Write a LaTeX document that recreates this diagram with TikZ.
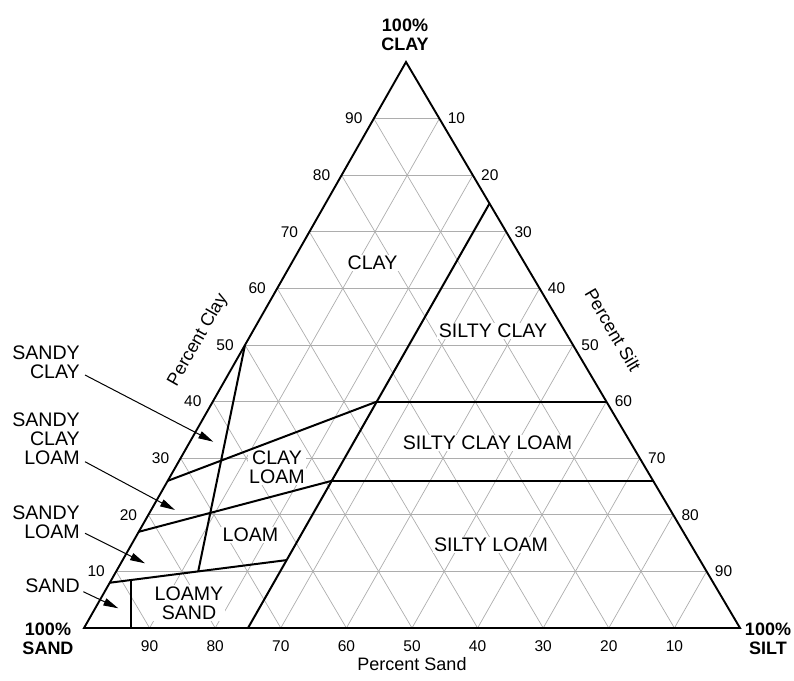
\documentclass[tikz,border=0pt]{standalone}
\usepackage{fontspec}
\setmainfont{Liberation Sans}
\usetikzlibrary{arrows.meta,calc}
\begin{document}
\begin{tikzpicture}[x=1pt,y=-1pt,
  gridline/.style={draw=black!32, line width=0.7pt},
  edgeline/.style={line width=1.9pt, line join=miter},
  bound/.style={line width=2pt},
  arr/.style={line width=1pt, -{Triangle[length=15pt,width=7.5pt]}},
  reg/.style={font=\fontsize{19.6}{19.5}\selectfont, align=center, inner sep=1.5pt, fill=white},
  side/.style={font=\fontsize{19.6}{19}\selectfont, align=right, inner sep=0pt, anchor=south east},
  num/.style={font=\fontsize{15.5}{16}\selectfont, inner sep=0pt},
  axislab/.style={font=\fontsize{18}{18}\selectfont, inner sep=0pt},
  corner/.style={font=\bfseries\fontsize{18}{19}\selectfont, align=center, inner sep=0pt}]
\useasboundingbox (0,0) rectangle (794,680);
\coordinate (A) at (84,628);
\coordinate (B) at (740,628);
\coordinate (C) at (406,62);
% grid
\foreach \i in {1,...,9}{
  \pgfmathsetmacro\p{\i/10}
  \pgfmathsetmacro\q{1-\i/10}
  \draw[gridline] (barycentric cs:A=\q,C=\p) -- (barycentric cs:B=\q,C=\p);
  \draw[gridline] (barycentric cs:A=\q,B=\p) -- (barycentric cs:B=\p,C=\q);
  \draw[gridline] (barycentric cs:A=\p,B=\q) -- (barycentric cs:A=\p,C=\q);
}
% region labels
\node[reg] (lclay) at (372.5,263) {CLAY};
\node[reg] (lsiltyclay) at (493,331) {SILTY CLAY};
\node[reg] (lsiltyclayloam) at (487.5,443) {SILTY CLAY LOAM};
\node[reg] (lclayloam) at (277,467) {CLAY\\LOAM};
\node[reg] (lloam) at (250.5,535) {LOAM};
\node[reg] (lsiltyloam) at (491,545) {SILTY LOAM};
\node[reg] (lloamysand) at (189,603) {LOAMY\\SAND};
% boundaries
\coordinate (Ptop) at (barycentric cs:B=0.25,C=0.75);
\coordinate (Pbot) at (barycentric cs:A=0.75,B=0.25);
\coordinate (P40) at (barycentric cs:A=0.35,B=0.25,C=0.40);
\coordinate (R40) at (barycentric cs:B=0.6,C=0.4);
\coordinate (P26) at (barycentric cs:A=0.49,B=0.25,C=0.26);
\coordinate (R26) at (barycentric cs:B=0.74,C=0.26);
\coordinate (L50) at (barycentric cs:A=0.5,C=0.5);
\coordinate (Q10) at (barycentric cs:A=0.775,B=0.125,C=0.10);
\coordinate (L8) at (barycentric cs:A=0.92,C=0.08);
\coordinate (P12) at (barycentric cs:A=0.63,B=0.25,C=0.12);
\coordinate (L17) at (barycentric cs:A=0.83,C=0.17);
\coordinate (L26) at (barycentric cs:A=0.74,C=0.26);
\coordinate (V) at ($(L8)!0.12!(P12)$);
\draw[bound] (Ptop) -- (Pbot);
\draw[bound] (P40) -- (R40);
\draw[bound] (P26) -- (R26);
\draw[bound] (L50) -- (Q10);
\draw[bound] (L8) -- (P12);
\draw[bound] (L17) -- (P26);
\draw[bound] (L26) -- (P40);
\draw[bound] (V) -- (V |- A);
% outline
\draw[edgeline] (A) -- (B) -- (C) -- cycle;
% scale numbers
\foreach \i in {1,...,9}{
  \pgfmathsetmacro\p{\i/10}
  \pgfmathsetmacro\q{1-\i/10}
  \pgfmathtruncatemacro\a{\i*10}
  \pgfmathtruncatemacro\b{100-\i*10}
  \node[num] (nl\i) at ([xshift=-20pt]barycentric cs:A=\q,C=\p) {\a};
  \node[num] (nr\i) at ([xshift=17pt]barycentric cs:B=\q,C=\p) {\b};
  \node[num] (nb\i) at ([yshift=-18pt]barycentric cs:A=\q,B=\p) {\b};
}
% axis titles
\node[axislab, rotate=60.4] (pclay) at (198,340) {Percent Clay};
\node[axislab, rotate=-59.5] (psilt) at (613,330) {Percent Silt};
\node[axislab] (psand) at (412,664) {Percent Sand};
% corners
\node[corner] (cclay) at (405,35) {100\%\\CLAY};
\node[corner] (csand) at (48,639) {100\%\\SAND};
\node[corner] (csilt) at (768,639) {100\%\\SILT};
% side labels with arrows
\node[side] (ssc) at (80,378.4) {SANDY\\CLAY};
\node[side] (sscl) at (80,465) {SANDY\\CLAY\\LOAM};
\node[side] (ssl) at (80,539) {SANDY\\LOAM};
\node[side] (ss) at (80,592.7) {SAND};
\coordinate (tsc) at (213.3,441.7);
\coordinate (tscl) at (175,510);
\coordinate (tsl) at (145,563.3);
\coordinate (ts) at (118.3,608.3);
\draw[arr] ([shift={(5,-3.4)}]ssc.south east) -- (tsc);
\draw[arr] ([shift={(5,-3.3)}]sscl.south east) -- (tscl);
\draw[arr] ([shift={(5,-5.7)}]ssl.south east) -- (tsl);
\draw[arr] ([shift={(3.3,-1)}]ss.south east) -- (ts);
\end{tikzpicture}
\end{document}
